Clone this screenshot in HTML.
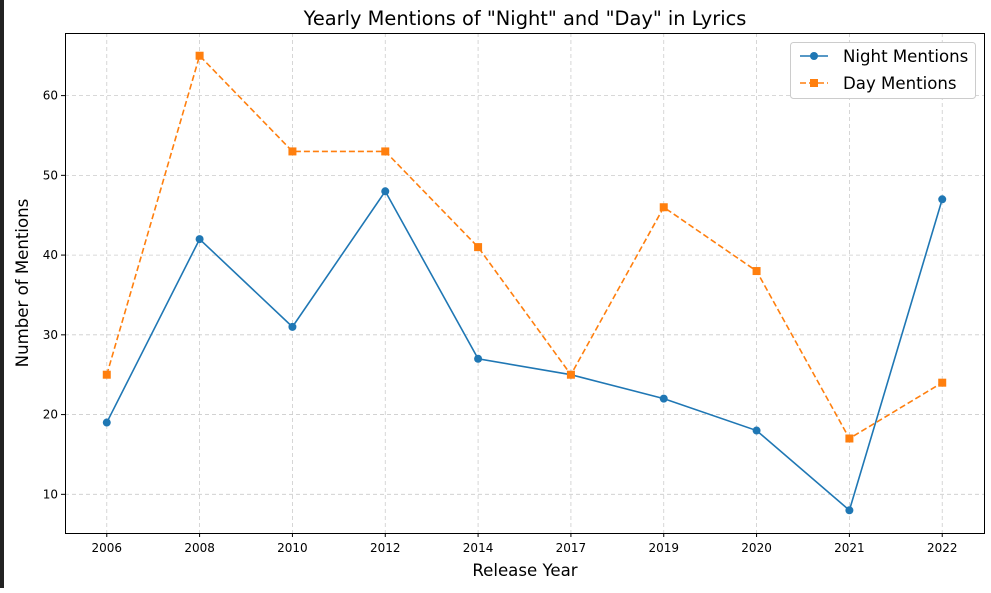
<!DOCTYPE html>
<html><head><meta charset="utf-8"><style>
body{margin:0;background:#fff;width:991px;height:588px;overflow:hidden;font-family:"Liberation Sans","DejaVu Sans",sans-serif}
</style></head><body>
<svg id="chart" width="991" height="588" xmlns="http://www.w3.org/2000/svg" font-family="DejaVu Sans, Liberation Sans, sans-serif">
<rect x="0" y="0" width="4" height="588" fill="#222"/>
<text x="525" y="25" text-anchor="middle" font-size="19.4">Yearly Mentions of "Night" and "Day" in Lyrics</text>
<text x="525" y="576" text-anchor="middle" font-size="16.6">Release Year</text>
<text transform="translate(28,283) rotate(-90)" text-anchor="middle" font-size="16.6">Number of Mentions</text>
<g id="grid"></g><g id="axes"></g><g id="series"></g>
<rect x="65.5" y="33.5" width="919" height="500" fill="none" stroke="#000" stroke-width="1"/>
<g>
<rect x="790.5" y="42.5" width="185" height="56" rx="3" fill="#fff" stroke="#ccc"/>
<line x1="800" y1="56" x2="828" y2="56" stroke="#1f77b4" stroke-width="1.6"/>
<circle cx="814" cy="56" r="4" fill="#1f77b4"/>
<text x="843" y="62" font-size="16.6">Night Mentions</text>
<line x1="800" y1="83" x2="828" y2="83" stroke="#ff7f0e" stroke-width="1.6" stroke-dasharray="6,3"/>
<rect x="810" y="79" width="8" height="8" fill="#ff7f0e"/>
<text x="843" y="89" font-size="16.6">Day Mentions</text>
</g>
</svg>
<script>
const years=["2006","2008","2010","2012","2014","2017","2019","2020","2021","2022"];
const nightValues=[19,42,31,48,27,25,22,18,8,47];
const dayValues=[25,65,53,53,41,25,46,38,17,24];
const yTicks=[10,20,30,40,50,60];
const NS="http://www.w3.org/2000/svg";
const L=65,R=984,T=33,B=533;
const all=nightValues.concat(dayValues);
const mn=Math.min(...all),mx=Math.max(...all),pad=(mx-mn)*0.05;
const y0=mn-pad,y1=mx+pad;
const n=years.length,xpad=(n-1)*0.05;
function xs(i){return L+(i+xpad)/(n-1+2*xpad)*(R-L);}
function ys(v){return B-(v-y0)/(y1-y0)*(B-T);}
function mk(tag,attrs,parent){const e=document.createElementNS(NS,tag);for(const k in attrs)e.setAttribute(k,attrs[k]);parent.appendChild(e);return e;}
const grid=document.getElementById('grid'),axes=document.getElementById('axes'),ser=document.getElementById('series');
years.forEach((yr,i)=>{const x=xs(i);
 const g=mk('line',{x1:x,x2:x,y1:T,y2:B,stroke:'#ccc','stroke-dasharray':'4,3','stroke-width':0.8},grid);
 
 
 mk('line',{x1:x,x2:x,y1:B,y2:B+4,stroke:'#000'},axes);
 const t=mk('text',{x:x,y:B+19,'text-anchor':'middle','font-size':12},axes);t.textContent=yr;
 
 
});
yTicks.forEach(v=>{const y=ys(v);
 const g=mk('line',{x1:L,x2:R,y1:y,y2:y,stroke:'#ccc','stroke-dasharray':'4,3','stroke-width':0.8},grid);
 
 
 mk('line',{x1:L-4,x2:L,y1:y,y2:y,stroke:'#000'},axes);
 const t=mk('text',{x:L-7,y:y+4,'text-anchor':'end','font-size':12},axes);t.textContent=v;
 
 
});
function draw(vals,color,dash,square,name){
 const p=mk('polyline',{points:vals.map((v,i)=>xs(i)+','+ys(v)).join(' '),fill:'none',stroke:color,'stroke-width':1.6,'stroke-dasharray':dash},ser);
 
 
 vals.forEach((v,i)=>{let m;
  if(square)m=mk('rect',{x:xs(i)-4,y:ys(v)-4,width:8,height:8,fill:color},ser);
  else m=mk('circle',{cx:xs(i),cy:ys(v),r:4,fill:color},ser);
  
  
 });
}
draw(nightValues,'#1f77b4','none',false,'night');
draw(dayValues,'#ff7f0e','6,3',true,'day');
</script>
</body></html>
